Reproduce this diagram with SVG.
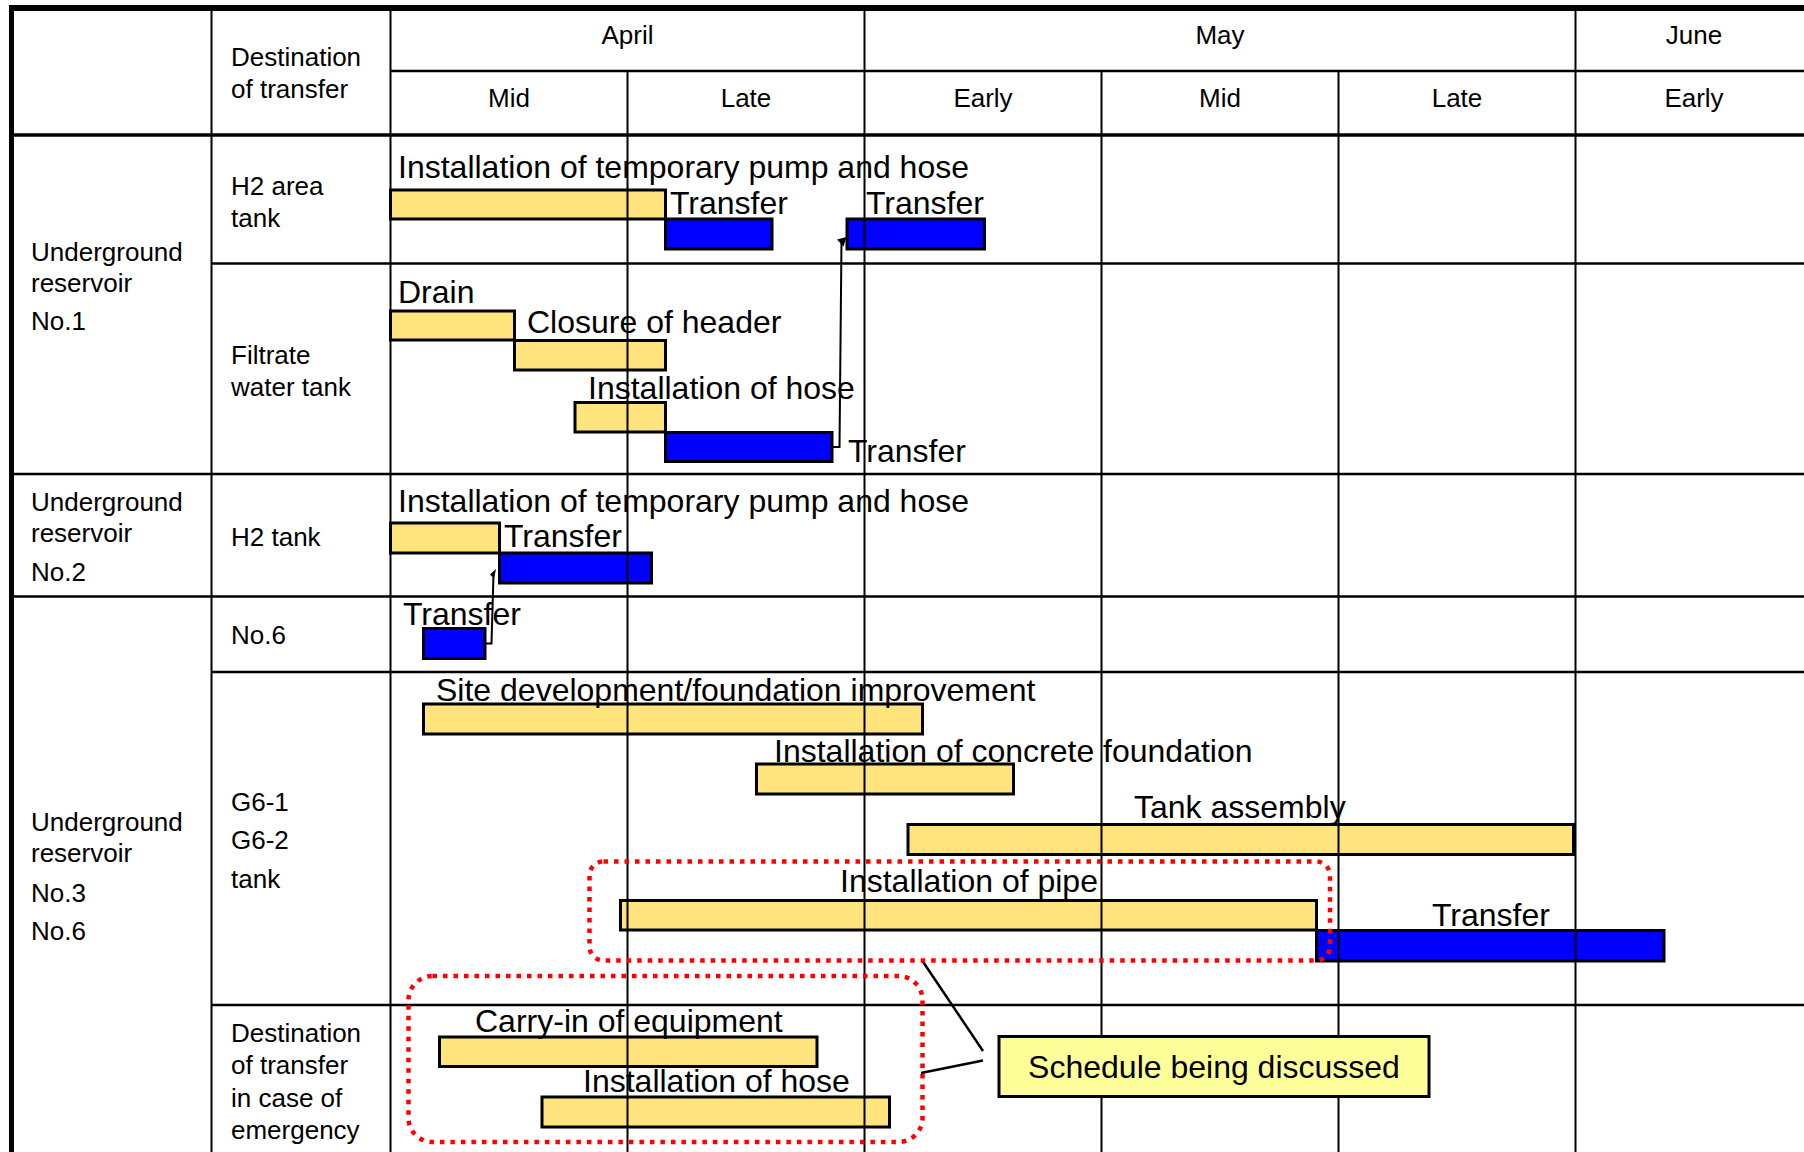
<svg xmlns="http://www.w3.org/2000/svg" width="1804" height="1152" viewBox="0 0 1804 1152">
  <style>
    text { font-family: "Liberation Sans", Arial, sans-serif; fill: #000; }
    .h { font-size: 26px; }
    .c { text-anchor: middle; }
    .t { font-size: 32px; }
    .work { fill: #FFE37D; stroke: #000; stroke-width: 3; }
    .move { fill: #0000FF; stroke: #000; stroke-width: 3; }
    .vl { stroke: #000; stroke-width: 2; }
    .hl { stroke: #000; stroke-width: 2.5; }
    .edge { stroke: #000; fill: none; }
    .conn { stroke: #000; stroke-width: 2; fill: none; }
    .lead { stroke: #000; stroke-width: 2.5; fill: none; }
    .tbd { fill: none; stroke: #FF0000; stroke-width: 4.5; stroke-dasharray: 4.5 6; }
  </style>

  <rect x="0" y="0" width="1804" height="1152" fill="#FFFFFF"/>

  <!-- header labels -->
  <g id="header">
    <text class="h" x="231" y="65.5">Destination</text>
    <text class="h" x="231" y="97.5">of transfer</text>
    <text class="h c" x="627.5" y="44">April</text>
    <text class="h c" x="1220" y="44">May</text>
    <text class="h c" x="1694" y="44">June</text>
    <text class="h c" x="509" y="107">Mid</text>
    <text class="h c" x="746" y="107">Late</text>
    <text class="h c" x="983" y="107">Early</text>
    <text class="h c" x="1220" y="107">Mid</text>
    <text class="h c" x="1457" y="107">Late</text>
    <text class="h c" x="1694" y="107">Early</text>
  </g>

  <!-- row labels -->
  <g id="reservoir-1">
    <text class="h" x="31" y="261">Underground</text>
    <text class="h" x="31" y="292">reservoir</text>
    <text class="h" x="31" y="330">No.1</text>
  </g>
  <g id="reservoir-2">
    <text class="h" x="31" y="510.5">Underground</text>
    <text class="h" x="31" y="542">reservoir</text>
    <text class="h" x="31" y="580.5">No.2</text>
  </g>
  <g id="reservoir-3-6">
    <text class="h" x="31" y="830.5">Underground</text>
    <text class="h" x="31" y="862">reservoir</text>
    <text class="h" x="31" y="901.5">No.3</text>
    <text class="h" x="31" y="939.5">No.6</text>
  </g>
  <g id="dest-h2-area">
    <text class="h" x="231" y="195">H2 area</text>
    <text class="h" x="231" y="227">tank</text>
  </g>
  <g id="dest-filtrate">
    <text class="h" x="231" y="363.5">Filtrate</text>
    <text class="h" x="231" y="395.5">water tank</text>
  </g>
  <g id="dest-h2">
    <text class="h" x="231" y="546">H2 tank</text>
  </g>
  <g id="dest-no6">
    <text class="h" x="231" y="644">No.6</text>
  </g>
  <g id="dest-g6">
    <text class="h" x="231" y="811">G6-1</text>
    <text class="h" x="231" y="849">G6-2</text>
    <text class="h" x="231" y="887.5">tank</text>
  </g>
  <g id="dest-emergency">
    <text class="h" x="231" y="1042">Destination</text>
    <text class="h" x="231" y="1074">of transfer</text>
    <text class="h" x="231" y="1106.5">in case of</text>
    <text class="h" x="231" y="1138.5">emergency</text>
  </g>

  <!-- schedule bars -->
  <g id="tasks">
    <g id="h2area-install">
      <rect class="work" x="390.5" y="190" width="275" height="29"/>
      <text class="t" x="398" y="178">Installation of temporary pump and hose</text>
    </g>
    <g id="h2area-transfer-1">
      <rect class="move" x="665.5" y="219" width="106.5" height="30"/>
      <text class="t" x="670" y="214">Transfer</text>
    </g>
    <g id="h2area-transfer-2">
      <rect class="move" x="847" y="219" width="137.5" height="30"/>
      <text class="t" x="866" y="214">Transfer</text>
    </g>

    <g id="filtrate-drain">
      <rect class="work" x="390.5" y="311" width="124" height="29"/>
      <text class="t" x="398" y="302.5">Drain</text>
    </g>
    <g id="filtrate-closure">
      <rect class="work" x="514.5" y="340.5" width="151" height="29.5"/>
      <text class="t" x="527" y="333">Closure of header</text>
    </g>
    <g id="filtrate-hose">
      <rect class="work" x="575" y="402.5" width="90.5" height="29.5"/>
      <text class="t" x="588" y="398.5">Installation of hose</text>
    </g>
    <g id="filtrate-transfer">
      <rect class="move" x="665.5" y="432.5" width="166.5" height="29"/>
      <text class="t" x="848" y="462">Transfer</text>
    </g>

    <g id="h2-install">
      <rect class="work" x="390.5" y="523" width="109" height="30"/>
      <text class="t" x="398" y="512">Installation of temporary pump and hose</text>
    </g>
    <g id="h2-transfer">
      <rect class="move" x="499.5" y="553" width="152" height="30"/>
      <text class="t" x="504" y="547">Transfer</text>
    </g>

    <g id="no6-transfer">
      <rect class="move" x="423.5" y="628.5" width="61.5" height="30"/>
      <text class="t" x="403" y="625">Transfer</text>
    </g>

    <g id="g6-site">
      <rect class="work" x="423.5" y="704" width="499" height="30"/>
      <text class="t" x="436" y="701">Site development/foundation improvement</text>
    </g>
    <g id="g6-concrete">
      <rect class="work" x="756.5" y="764" width="257" height="30"/>
      <text class="t" x="774" y="762">Installation of concrete foundation</text>
    </g>
    <g id="g6-tank">
      <rect class="work" x="908" y="824.5" width="665.5" height="30"/>
      <text class="t" x="1134" y="818">Tank assembly</text>
    </g>
    <g id="g6-pipe">
      <rect class="work" x="620.5" y="900.5" width="696" height="29.5"/>
      <text class="t" x="840" y="892">Installation of pipe</text>
    </g>
    <g id="g6-transfer">
      <rect class="move" x="1316.5" y="930.5" width="347.5" height="30.5"/>
      <text class="t" x="1432" y="926">Transfer</text>
    </g>

    <g id="emg-carry-in">
      <rect class="work" x="439.5" y="1037" width="377.5" height="29.5"/>
      <text class="t" x="475" y="1032">Carry-in of equipment</text>
    </g>
    <g id="emg-hose">
      <rect class="work" x="542" y="1097" width="347.5" height="30"/>
      <text class="t" x="583" y="1092">Installation of hose</text>
    </g>
  </g>

  <!-- table rules, drawn over the bars -->
  <g id="grid">
    <line class="vl" x1="211.5" y1="8" x2="211.5" y2="1152"/>
    <line class="vl" x1="390.5" y1="8" x2="390.5" y2="1152"/>
    <line class="vl" x1="627.5" y1="71" x2="627.5" y2="1152"/>
    <line class="vl" x1="864.5" y1="8" x2="864.5" y2="1152"/>
    <line class="vl" x1="1101.5" y1="71" x2="1101.5" y2="1152"/>
    <line class="vl" x1="1338.5" y1="71" x2="1338.5" y2="1152"/>
    <line class="vl" x1="1575.5" y1="8" x2="1575.5" y2="1152"/>

    <line class="hl" x1="390.5" y1="71" x2="1804" y2="71"/>
    <line class="hl" x1="211.5" y1="263.5" x2="1804" y2="263.5"/>
    <line class="hl" x1="9" y1="474" x2="1804" y2="474"/>
    <line class="hl" x1="9" y1="596.5" x2="1804" y2="596.5"/>
    <line class="hl" x1="211.5" y1="672" x2="1804" y2="672"/>
    <line class="hl" x1="211.5" y1="1005" x2="1804" y2="1005"/>
    <line class="edge" stroke-width="3.5" x1="9" y1="135" x2="1804" y2="135"/>

    <line class="edge" stroke-width="6" x1="9" y1="8" x2="1804" y2="8"/>
    <line class="edge" stroke-width="5" x1="11.5" y1="5" x2="11.5" y2="1152"/>
  </g>

  <!-- dependency arrows and callout leaders -->
  <g id="connectors">
    <polyline class="conn" points="832,447 839.5,447 841.5,240"/>
    <polygon points="837,239.5 846.5,237 843.5,246.5" fill="#000"/>
    <polyline class="conn" points="485,643.5 491.5,643.5 493.5,574"/>
    <polygon points="490,574.5 496,569 494,578.5" fill="#000"/>
    <line class="lead" x1="983" y1="1051" x2="922.5" y2="961"/>
    <line class="lead" x1="983" y1="1060.5" x2="921" y2="1073"/>
  </g>

  <!-- items still under discussion -->
  <g id="tbd-pipe">
    <rect class="tbd" x="589.5" y="861.5" width="740.5" height="99" rx="14"/>
  </g>
  <g id="tbd-emergency">
    <rect class="tbd" x="408.5" y="976" width="514" height="166" rx="24"/>
  </g>
  <g id="callout">
    <rect x="999" y="1036.5" width="430" height="60" fill="#FFFF99" stroke="#000" stroke-width="3"/>
    <text class="t c" x="1214" y="1078">Schedule being discussed</text>
  </g>
</svg>
